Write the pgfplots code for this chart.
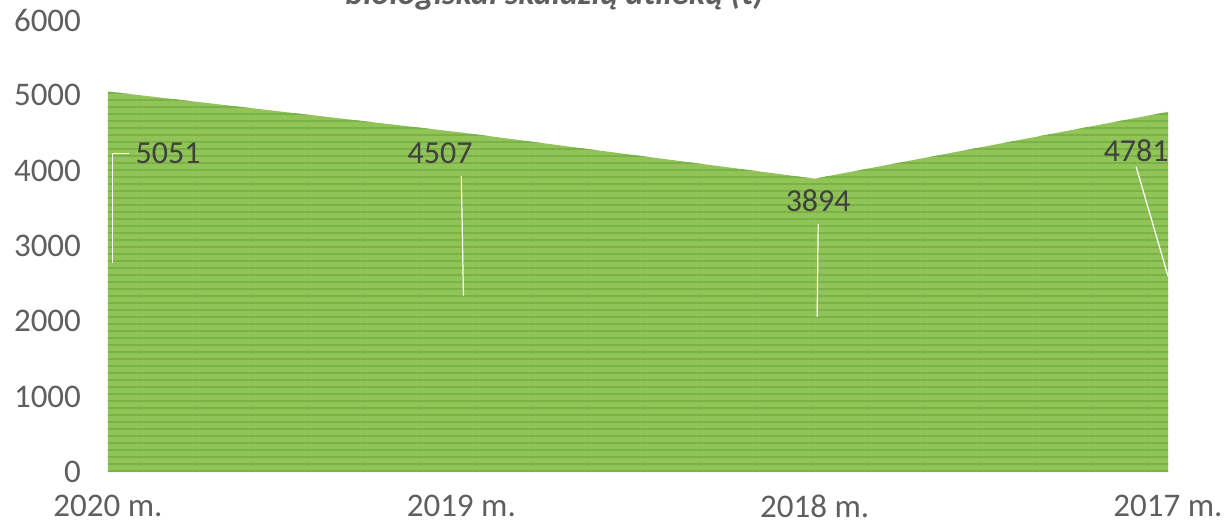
\documentclass[border=0pt]{standalone}
\usepackage{fontspec}
\setmainfont{Carlito}
\usepackage{pgfplots}
\usetikzlibrary{patterns.meta}
\pgfplotsset{compat=1.18}
\definecolor{areagreen}{RGB}{145,195,86}
\definecolor{stripe}{RGB}{118,178,72}
\definecolor{ticklab}{RGB}{95,95,95}
\definecolor{datalab}{RGB}{64,64,64}
\begin{document}
\begin{tikzpicture}
\path[use as bounding box] (-54pt,-27.5pt) rectangle (560pt,236pt);
\begin{axis}[
  at={(0pt,0pt)}, anchor=south west,
  width=530pt, height=226pt, scale only axis,
  xmin=0, xmax=3, ymin=0, ymax=6000,
  xtick={0,1,2,3},
  xticklabels={2020 m.,2019 m.,2018 m.,2017 m.},
  ytick={0,1000,2000,3000,4000,5000,6000},
  axis line style={draw=none},
  major tick length=0pt,
  scaled y ticks=false,
  /pgf/number format/assume math mode=true,
  /pgf/number format/1000 sep={},
  tick label style={font=\fontsize{16.5}{19}\selectfont, text=ticklab},
  yticklabel style={anchor=east, xshift=-10pt},
  xticklabel style={anchor=center, yshift=-17pt},
  clip=false,
]
\addplot[fill=areagreen, draw=none,
  postaction={pattern={Lines[angle=0,distance=3.5pt,line width=0.9pt]}, pattern color=stripe}]
  coordinates {(0,5051) (1,4507) (2,3894) (3,4781)} \closedcycle;
\draw[white, line width=0.6pt] (axis cs:0.06,4230) -- (axis cs:0.012,4230) -- (axis cs:0.012,2780);
\draw[white, line width=0.6pt] (axis cs:1.0,3930) -- (axis cs:1.006,2340);
\draw[white, line width=0.6pt] (axis cs:2.01,3290) -- (axis cs:2.007,2060);
\draw[white, line width=0.6pt] (axis cs:2.91,4050) -- (axis cs:3.0,2600);
\node[font=\fontsize{16}{18}\selectfont, text=datalab] at (axis cs:0.17,4230) {5051};
\node[font=\fontsize{16}{18}\selectfont, text=datalab] at (axis cs:0.94,4230) {4507};
\node[font=\fontsize{16}{18}\selectfont, text=datalab] at (axis cs:2.01,3600) {3894};
\node[font=\fontsize{16}{18}\selectfont, text=datalab] at (axis cs:2.91,4260) {4781};
\end{axis}
\node[anchor=base west, inner sep=0pt, font=\fontsize{17}{20}\selectfont\bfseries\itshape, text=ticklab] at (118.5pt,234pt) {biologiškai skaidžių atliekų (t)};
\end{tikzpicture}
\end{document}
